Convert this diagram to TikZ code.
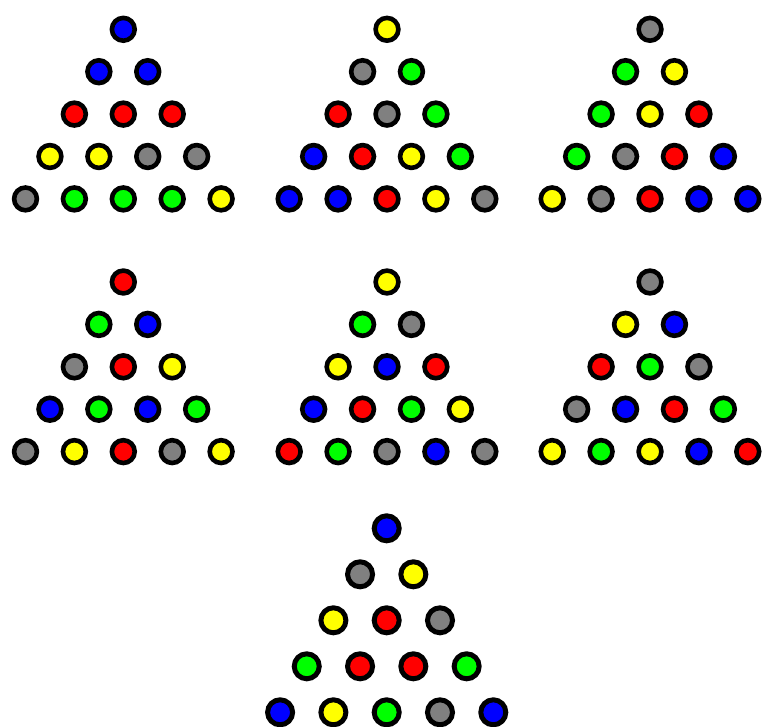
\documentclass[tikz,border=0pt]{standalone}
\definecolor{cB}{RGB}{0,0,255}
\definecolor{cR}{RGB}{255,0,0}
\definecolor{cG}{RGB}{0,255,0}
\definecolor{cY}{RGB}{255,255,0}
\definecolor{cK}{RGB}{128,128,128}
\tikzset{ball/.style={circle,draw=black,inner sep=0pt,outer sep=0pt}}
% #1 name, #2 x, #3 y, #4 dx, #5 dy, #6 diameter, #7 line width, #8 rows
\newcommand\balltriangle[8]{%
  \foreach \row [count=\r] in {#8}{%
    \foreach \c [count=\k] in \row {%
      \node[ball, fill=c\c, minimum size=#6, line width=#7] (#1-\r-\k)
        at ({#2+(2*\k-\r-1)*#4}, {-(#3+(\r-1)*#5)}) {};
    }%
  }%
}
\begin{document}
\begin{tikzpicture}[x=1pt,y=1pt]
\useasboundingbox (0,0) rectangle (763,-727);
\balltriangle{t1}{123.3}{29.3}{24.45}{42.4}{22.8pt}{4.6pt}{{B},{B,B},{R,R,R},{Y,Y,K,K},{K,G,G,G,Y}}
\balltriangle{t2}{387}{29.3}{24.45}{42.4}{22.8pt}{4.6pt}{{Y},{K,G},{R,K,G},{B,R,Y,G},{B,B,R,Y,K}}
\balltriangle{t3}{650}{29.3}{24.45}{42.4}{22.8pt}{4.6pt}{{K},{G,Y},{G,Y,R},{G,K,R,B},{Y,K,R,B,B}}
\balltriangle{t4}{123.3}{282}{24.45}{42.4}{22.8pt}{4.6pt}{{R},{G,B},{K,R,Y},{B,G,B,G},{K,Y,R,K,Y}}
\balltriangle{t5}{387}{282}{24.45}{42.4}{22.8pt}{4.6pt}{{Y},{G,K},{Y,B,R},{B,R,G,Y},{R,G,K,B,K}}
\balltriangle{t6}{650}{282}{24.45}{42.4}{22.8pt}{4.6pt}{{K},{Y,B},{R,G,K},{K,B,R,G},{Y,G,Y,B,R}}
\balltriangle{t7}{386.7}{528.3}{26.65}{46}{25pt}{5pt}{{B},{K,Y},{Y,R,K},{G,R,R,G},{B,Y,G,K,B}}
\end{tikzpicture}
\end{document}
